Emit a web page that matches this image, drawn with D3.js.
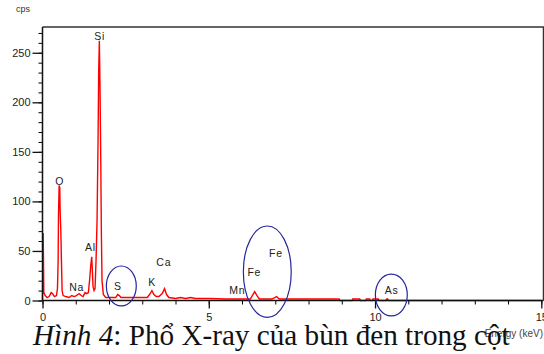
<!DOCTYPE html>
<meta charset="utf-8">
<script src="https://d3js.org/d3.v7.min.js"></script>
<style>
  body { margin: 0; background: #fff; }
</style>
<div id="my_dataviz"></div>
<script>

var energy = [0.00, 0.02, 0.04, 0.08, 0.14, 0.20, 0.26, 0.30, 0.36, 0.42, 0.45, 0.47, 0.48, 0.50, 0.52, 0.53, 0.55, 0.57, 0.59, 0.62,
  0.70, 0.80, 0.88, 0.95, 1.02, 1.10, 1.16, 1.22, 1.28, 1.33, 1.38, 1.42, 1.45, 1.48, 1.50, 1.52, 1.55, 1.58, 1.61, 1.64,
  1.67, 1.69, 1.71, 1.73, 1.75, 1.77, 1.79, 1.83, 1.90, 2.10, 2.20, 2.26, 2.31, 2.36, 2.60, 2.90, 3.15, 3.22, 3.29, 3.35,
  3.42, 3.50, 3.60, 3.67, 3.73, 3.80, 4.00, 4.15, 4.30, 4.45, 4.60, 5.00, 5.50, 6.00, 6.25, 6.31, 6.38, 6.45, 6.52, 6.90,
  7.04, 7.12, 8.00, 8.92, 8.94, 9.31, 9.33, 9.54, 9.56, 9.72, 9.74, 9.84, 9.86, 9.92, 9.94, 10.10, 10.12, 10.33, 10.35, 10.38,
  10.40, 15.00];
var cps = [0, 68, 8, 5, 3, 4, 8, 7, 4, 5, 12, 40, 85, 116, 114, 90, 72, 40, 10, 5,
  4, 3, 5, 4, 5, 7, 5, 4, 8, 7, 8, 22, 35, 44, 30, 14, 10, 12, 40, 80,
  160, 232, 262, 214, 150, 70, 20, 6, 3, 3, 3, 6, 5, 3, 3, 3, 3, 6, 10, 6,
  4, 4, 7, 12, 6, 3, 2, 3, 2, 3, 2, 2, 1.5, 1.5, 1.5, 5, 9, 5, 1.5, 1.5,
  4, 1.5, 1.5, 1.5, 0, 0, 1.5, 1.5, 0, 0, 1.5, 1.5, 0, 0, 1.5, 1.5, 0, 0, 1.5, 1.5,
  0, 0];

// element labels (keV, cps of the text baseline)
var elements = ["Si", "O", "Na", "Al", "S", "K", "Ca", "Mn", "Fe", "Fe", "As"];
var elemKeV = [1.72, 0.52, 1.03, 1.44, 2.27, 3.30, 3.65, 5.86, 6.37, 7.02, 10.50];
var elemCps = [263, 117, 9.5, 50, 10.5, 14.5, 35, 6.5, 24.5, 44, 6.5];

// circled regions : keV from/to, cps from/to
var ringKeV = [[1.92, 2.82], [6.04, 7.48], [10.01, 10.97]];
var ringCps = [[-5.5, 34.8], [-17, 75.2], [-15.6, 26.7]];

var xMajor = [0, 5, 10, 15];
var yMajor = [0, 50, 100, 150, 200, 250];

var W = 544, H = 354;

var svg = d3.select("#my_dataviz")
  .append("svg")
    .attr("width", W)
    .attr("height", H)
    .style("display", "block");

var x = d3.scaleLinear().domain([0, 15]).range([42.5, 541.3]);
var y = d3.scaleLinear().domain([0, 276]).range([300.5, 27]);

// frame top / right
svg.append("path")
  .attr("d", "M" + x(0) + "," + y(276) + "H543.5V" + y(0))
  .attr("fill", "none")
  .attr("stroke", "#333")
  .attr("stroke-width", 1.5);

// spectrum
var pts = energy.map(function(e, i) { return [e, cps[i]]; });
svg.append("path")
  .datum(pts)
  .attr("fill", "none")
  .attr("stroke", "#ff0000")
  .attr("stroke-width", 1.4)
  .attr("stroke-linejoin", "miter")
  .attr("d", d3.line()
    .x(function(d) { return x(d[0]); })
    .y(function(d) { return y(d[1]); }));

// minor ticks
svg.append("g")
  .attr("transform", "translate(" + x(0) + ",0)")
  .call(d3.axisLeft(y).tickValues(d3.range(0, 271, 10)).tickSize(4).tickFormat(""))
  .call(function(g) { g.select(".domain").remove(); });
svg.append("g")
  .attr("transform", "translate(0," + y(0) + ")")
  .call(d3.axisBottom(x).tickValues(d3.range(0, 16, 1)).tickSize(4).tickFormat(""))
  .call(function(g) { g.select(".domain").remove(); });

// major axes
var yAxis = svg.append("g")
  .attr("transform", "translate(" + x(0) + ",0)")
  .call(d3.axisLeft(y).tickValues(yMajor).tickSize(10).tickPadding(2).tickSizeOuter(0));
var xAxis = svg.append("g")
  .attr("transform", "translate(0," + y(0) + ")")
  .call(d3.axisBottom(x).tickValues(xMajor).tickSize(8).tickPadding(5).tickSizeOuter(0));

[yAxis, xAxis].forEach(function(g) {
  g.selectAll("line").attr("stroke", "#111").attr("stroke-width", 1.3);
  g.select(".domain").attr("stroke", "#111").attr("stroke-width", 1.5);
  g.selectAll("text")
    .style("font-family", "'Liberation Sans', Arial, sans-serif")
    .style("font-size", "11px")
    .attr("fill", "#222");
});
yAxis.select(".domain").attr("d", "M0," + y(276) + "V" + y(0));
xAxis.select(".domain").attr("d", "M" + x(0) + ",0H543.5");

// axis titles
svg.append("text")
  .attr("x", 16).attr("y", 12)
  .style("font-family", "'Liberation Sans', Arial, sans-serif")
  .style("font-size", "9px")
  .attr("fill", "#333")
  .text("cps");

// element labels
svg.selectAll(".elem")
  .data(elements)
  .enter()
  .append("text")
    .attr("class", "elem")
    .attr("x", function(d, i) { return x(elemKeV[i]); })
    .attr("y", function(d, i) { return y(elemCps[i]); })
    .attr("text-anchor", "middle")
    .style("font-family", "'Liberation Sans', Arial, sans-serif")
    .style("font-size", "10.5px")
    .style("letter-spacing", "0.8px")
    .attr("fill", "#222")
    .text(function(d) { return d; });

// blue rings
svg.selectAll(".ring")
  .data(ringKeV)
  .enter()
  .append("ellipse")
    .attr("cx", function(d) { return (x(d[0]) + x(d[1])) / 2; })
    .attr("cy", function(d, i) { return (y(ringCps[i][0]) + y(ringCps[i][1])) / 2; })
    .attr("rx", function(d) { return (x(d[1]) - x(d[0])) / 2; })
    .attr("ry", function(d, i) { return (y(ringCps[i][0]) - y(ringCps[i][1])) / 2; })
    .attr("fill", "none")
    .attr("stroke", "#26269c")
    .attr("stroke-width", 1.2);

svg.append("text")
  .attr("x", 543).attr("y", 337)
  .attr("text-anchor", "end")
  .style("font-family", "'Liberation Sans', Arial, sans-serif")
  .style("font-size", "10px")
  .attr("fill", "#444")
  .text("Energy (keV)");

// caption
var cap = svg.append("text")
  .attr("x", 33).attr("y", 345)
  .style("font-family", "'Liberation Serif', 'Times New Roman', serif")
  .style("font-size", "29.2px")
  .attr("fill", "#111");
cap.append("tspan").style("font-style", "italic").text("Hình 4");
cap.append("tspan").text(": Phổ X-ray của bùn đen trong cột");

</script>
